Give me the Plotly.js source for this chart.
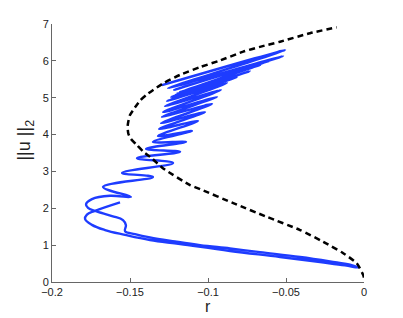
<!DOCTYPE html>
<html>
<head>
<meta charset="utf-8">
<script src="https://cdn.plot.ly/plotly-3.0.1.min.js"></script>
<style>
html,body{margin:0;padding:0;background:#fff;}
#chart{width:403px;height:318px;}
</style>
</head>
<body>
<div id="chart"></div>
<script>
// Dashed (black) branch: r values and ||u||_2 values
const dashR = [0.0, -0.0005, -0.0047, -0.0133, -0.0261, -0.0410, -0.0624, -0.0838, -0.1051, -0.1115, -0.1287, -0.1361, -0.1415, -0.1457, -0.1494, -0.1511, -0.1515, -0.1511, -0.1500, -0.1479, -0.1436, -0.1397, -0.1351, -0.1287, -0.1179, -0.1051, -0.0923, -0.0774, -0.0667, -0.0538, -0.0346, -0.0175];
const dashNorm = [0.12, 0.19, 0.51, 0.78, 1.09, 1.41, 1.77, 2.14, 2.52, 2.63, 3.08, 3.36, 3.54, 3.72, 3.88, 4.03, 4.23, 4.35, 4.53, 4.67, 4.92, 5.07, 5.21, 5.39, 5.62, 5.83, 6.01, 6.25, 6.38, 6.52, 6.75, 6.91];

// Snaking (blue) branch
const snakeR = [
  -0.1295, -0.0506, -0.1256, -0.0519, -0.1218, -0.0603, -0.1179, -0.0667, -0.1205, -0.0731,
  -0.1237, -0.0814, -0.1263, -0.0878, -0.1276, -0.0917, -0.1288, -0.0942, -0.1295, -0.0974,
  -0.1301, -0.1019, -0.1314, -0.1064, -0.1321, -0.1103, -0.1353, -0.1141, -0.1397, -0.1179,
  -0.1455, -0.1224, -0.1551, -0.1353, -0.1673, -0.1494,
  -0.1628, -0.1744, -0.1782, -0.1769, -0.1724, -0.1615, -0.1545, -0.1526, -0.1532,
  -0.1468, -0.1372, -0.1212, -0.1051, -0.0859, -0.0667, -0.0410, -0.0218,
  -0.0090, -0.0038, -0.0122, -0.0282, -0.0538, -0.0859, -0.1179, -0.1372, -0.1532, -0.1660,
  -0.1744, -0.1788, -0.1776, -0.1724, -0.1564];
const snakeNorm = [
  5.34, 6.29, 5.26, 6.13, 5.21, 6.00, 5.15, 5.89, 5.10, 5.72,
  5.02, 5.56, 4.91, 5.40, 4.77, 5.21, 4.61, 5.02, 4.48, 4.83,
  4.31, 4.61, 4.15, 4.37, 3.96, 4.10, 3.80, 3.80, 3.61, 3.53,
  3.36, 3.23, 2.96, 2.85, 2.58, 2.31,
  2.34, 2.25, 2.11, 2.01, 1.93, 1.79, 1.68, 1.54, 1.38,
  1.30, 1.21, 1.10, 1.00, 0.91, 0.81, 0.68, 0.56,
  0.47, 0.39, 0.45, 0.54, 0.68, 0.84, 1.03, 1.14, 1.28, 1.41,
  1.55, 1.71, 1.83, 1.93, 2.16];

const xTickVals = [-0.2, -0.15, -0.1, -0.05, 0];
const xTickText = ['\u22120.2', '\u22120.15', '\u22120.1', '\u22120.05', '0'];
const yTickVals = [0, 1, 2, 3, 4, 5, 6, 7];
const yTickText = ['0', '1', '2', '3', '4', '5', '6', '7'];

const FONT = 'Arial, "Liberation Sans", Helvetica, sans-serif';

const traces = [
  {
    x: snakeR, y: snakeNorm, type: 'scatter', mode: 'lines',
    line: {color: 'rgb(30,60,255)', width: 2.4, shape: 'spline', smoothing: 1.1},
    hoverinfo: 'skip'
  },
  {
    x: dashR, y: dashNorm, type: 'scatter', mode: 'lines',
    line: {color: '#000', width: 2.5, dash: '6px,4px', shape: 'spline', smoothing: 0.6},
    hoverinfo: 'skip'
  }
];

const axisCommon = {
  showgrid: false, zeroline: false, showline: true, linecolor: '#666', linewidth: 1,
  ticks: 'inside', ticklen: 4, tickcolor: '#666', tickwidth: 1,
  tickfont: {family: FONT, size: 11, color: '#222'}, mirror: false
};

const layout = {
  width: 403, height: 318,
  margin: {l: 52, r: 39, t: 24, b: 36, pad: 0},
  paper_bgcolor: '#fff', plot_bgcolor: '#fff',
  showlegend: false,
  xaxis: Object.assign({}, axisCommon, {
    range: [-0.2, 0], tickmode: 'array', tickvals: xTickVals, ticktext: xTickText
  }),
  yaxis: Object.assign({}, axisCommon, {
    range: [0, 7], tickmode: 'array', tickvals: yTickVals, ticktext: yTickText
  }),
  annotations: [
    {text: 'r', xref: 'paper', yref: 'paper', x: 0.5, y: -0.095, xanchor: 'center', yanchor: 'middle',
     borderpad: 0, showarrow: false, font: {family: FONT, size: 16, color: '#222'}},
    {text: '||u ||<sub>2</sub>', xref: 'paper', yref: 'paper', x: -0.085, y: 0.55, xanchor: 'center', yanchor: 'middle',
     textangle: -90, showarrow: false, font: {family: FONT, size: 18, color: '#222'}}
  ]
};

Plotly.newPlot('chart', traces, layout, {staticPlot: true, displayModeBar: false});
</script>
</body>
</html>
